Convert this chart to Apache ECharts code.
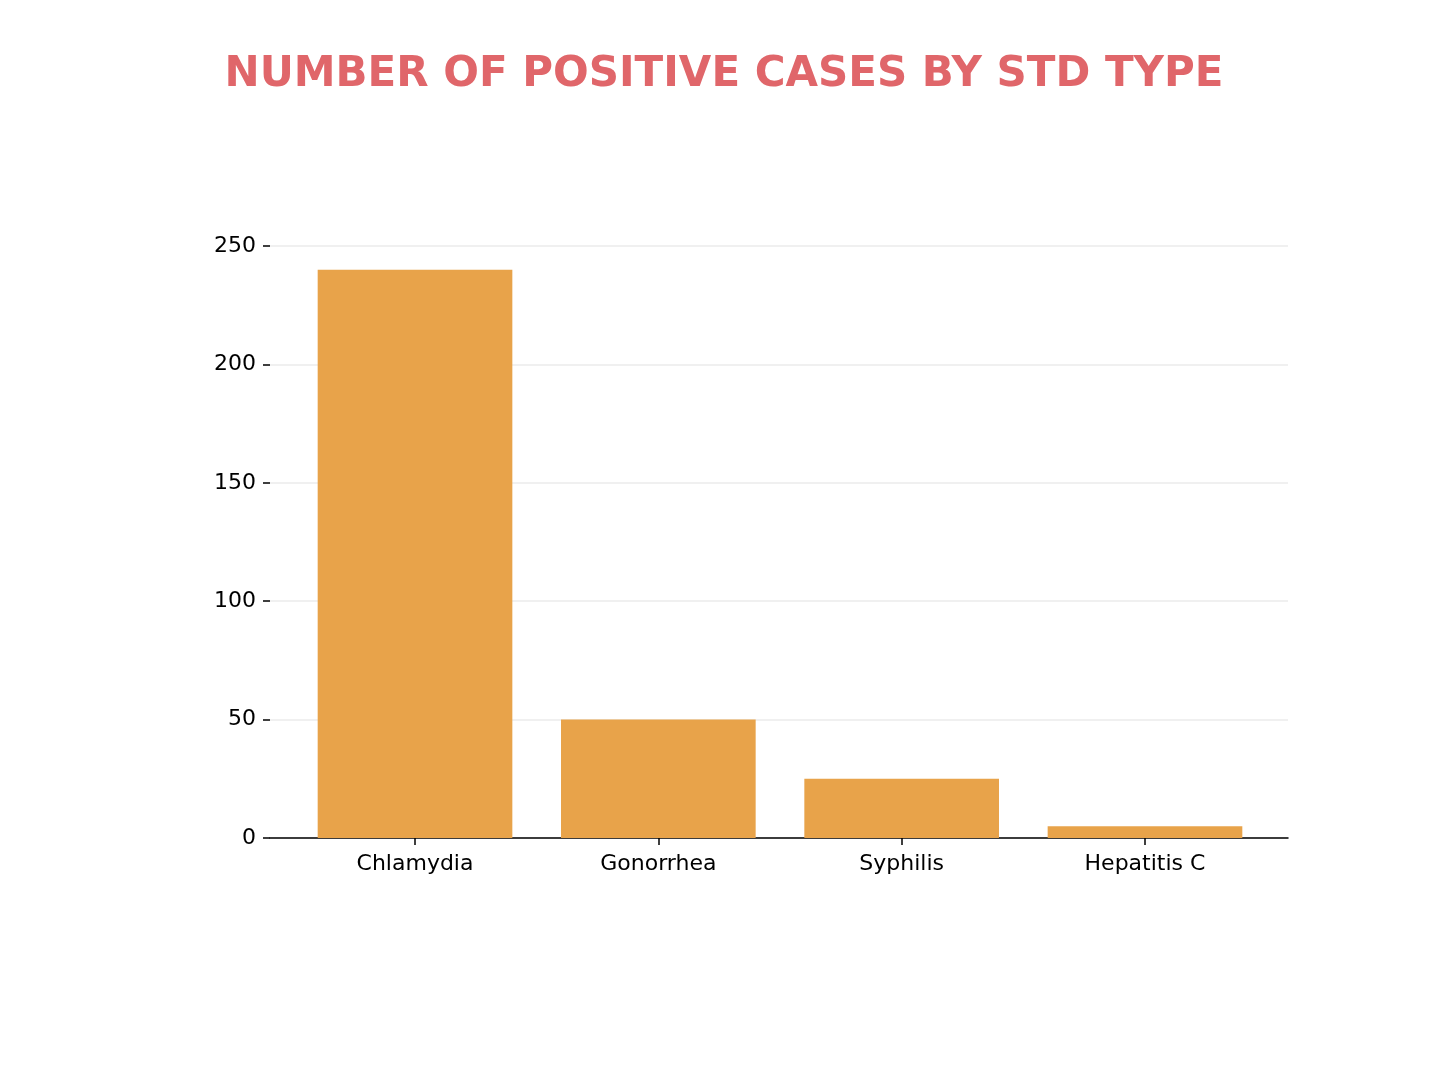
<!DOCTYPE html>
<html>
<head>
<meta charset="utf-8">
<script src="https://cdn.jsdelivr.net/npm/echarts@6/dist/echarts.min.js"></script>
<style>
  html, body { margin: 0; padding: 0; background: #fff; }
  #chart { width: 1448px; height: 1086px; }
</style>
</head>
<body>
<div id="chart"></div>
<script>
var categories = ['Chlamydia', 'Gonorrhea', 'Syphilis', 'Hepatitis C']
var positiveCases = [240, 50, 25, 5]
var yTicks = [0, 50, 100, 150, 200, 250]

var chart = echarts.init(document.getElementById('chart'))
chart.setOption({
  backgroundColor: '#ffffff',
  textStyle: { fontFamily: 'DejaVu Sans' },
  title: {
    text: 'NUMBER OF POSITIVE CASES BY STD TYPE',
    left: 'center',
    top: 49,
    textStyle: {
      fontFamily: 'DejaVu Sans',
      fontWeight: 'bold',
      fontSize: 42,
      color: '#e0666a'
    }
  },
  grid: [
    // bars sit in a narrower grid so the category bands match the picture
    { left: 293.35, right: 181.35, top: 246, bottom: 248 },
    // the wider grid carries the y axis, grid lines and the bottom spine
    { left: 270, right: 160, top: 246, bottom: 248 }
  ],
  xAxis: [{
    type: 'category',
    gridIndex: 0,
    data: categories,
    axisLine: { show: false },
    axisTick: {
      show: true,
      alignWithLabel: true,
      length: 7,
      lineStyle: { color: '#000', width: 1.5 }
    },
    axisLabel: { color: '#000', fontSize: 22, margin: 15 }
  }, {
    type: 'value',
    gridIndex: 1,
    min: 0,
    max: 1,
    axisLine: { show: true, onZero: false, lineStyle: { color: '#000', width: 1.5 } },
    axisTick: { show: false },
    axisLabel: { show: false },
    splitLine: { show: false }
  }],
  yAxis: [{
    type: 'value',
    gridIndex: 0,
    min: yTicks[0],
    max: yTicks[yTicks.length - 1],
    interval: 50,
    show: false
  }, {
    type: 'value',
    gridIndex: 1,
    min: yTicks[0],
    max: yTicks[yTicks.length - 1],
    interval: 50,
    axisLine: { show: false },
    axisTick: { show: true, length: 7, lineStyle: { color: '#000', width: 1.5 } },
    axisLabel: { color: '#000', fontSize: 22, margin: 14, padding: [6, 0, 0, 0] },
    splitLine: { show: true, lineStyle: { color: '#ebebeb', width: 1.5 } }
  }],
  series: [{
    type: 'bar',
    xAxisIndex: 0,
    yAxisIndex: 0,
    data: positiveCases,
    barWidth: '80%',
    z: 3,
    itemStyle: { color: '#e8a34a' }
  }]
})
</script>
</body>
</html>
